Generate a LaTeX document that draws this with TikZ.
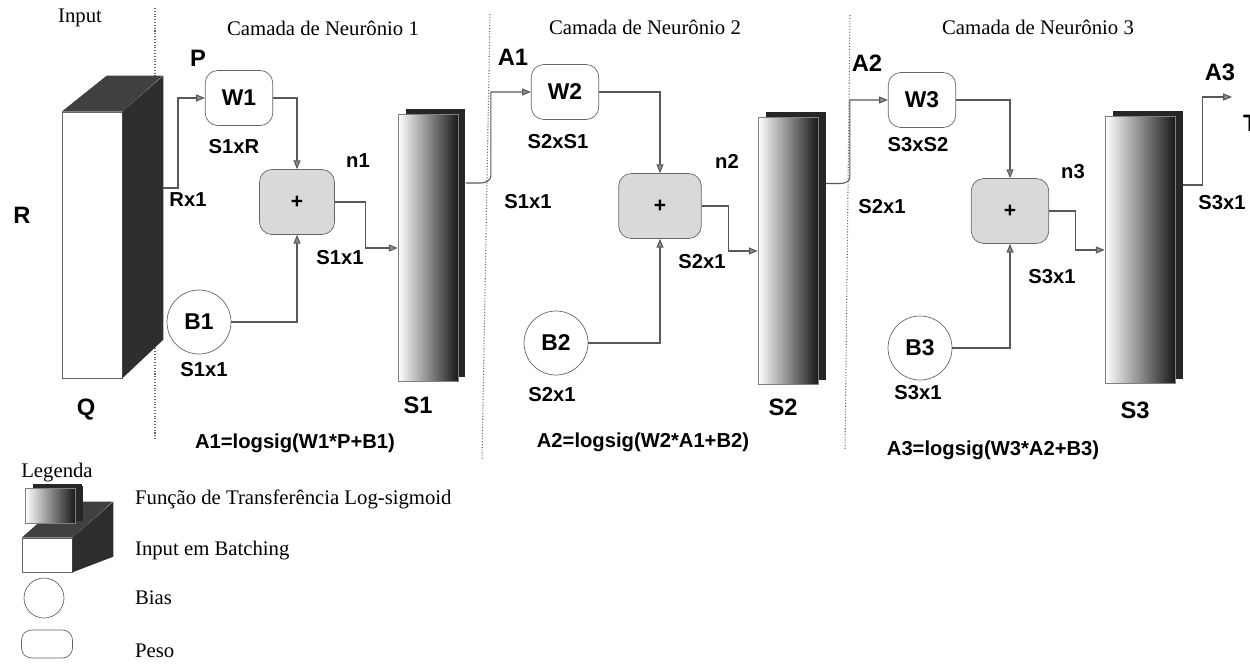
\documentclass[tikz,border=0pt]{standalone}
\usepackage{fontspec}
\setmainfont{Liberation Serif}
\setsansfont{Liberation Sans}
\usetikzlibrary{arrows.meta, positioning, calc, shadows}

\begin{document}
\begin{tikzpicture}[x=0.02cm, y=-0.02cm,
    weight/.style={rectangle, draw=black!60, fill=white, rounded corners=0.25cm, minimum width=1.35cm, minimum height=1.1cm, font=\sffamily\bfseries\fontsize{13}{15}\selectfont},
    sum/.style={rectangle, draw=black!60, fill=black!15, rounded corners=0.25cm, minimum width=1.5cm, minimum height=1.3cm, font=\sffamily\bfseries\fontsize{12}{14}\selectfont},
    bias/.style={circle, draw=black!60, fill=white, minimum size=1.28cm, inner sep=0pt, font=\sffamily\bfseries\fontsize{13}{15}\selectfont},
    transfer/.style={rectangle, draw=black!50, left color=white, middle color=black!35, right color=black!90, minimum width=1.2cm, minimum height=5.35cm, drop shadow={shadow xshift=0.15cm, shadow yshift=0.1cm, fill=black!85, opacity=1}},
    dimlabel/.style={font=\sffamily\bfseries\fontsize{11.5}{13}\selectfont, inner sep=1pt},
    biglabel/.style={font=\sffamily\bfseries\fontsize{13.5}{16}\selectfont, inner sep=1pt},
    heading/.style={font=\fontsize{11.8}{14}\selectfont, inner sep=1pt},
    wire/.style={draw=black!65, line width=0.6pt},
    wirearrow/.style={wire, -{Triangle[length=5pt, width=4pt, fill=black!45]}},
    divider/.style={densely dotted, black!60, line width=0.6pt}
]
\useasboundingbox (0,0) rectangle (1250,663);

% Layer dividers
\draw[divider] (155,8) -- (155,440);
\draw[divider] (490,14) -- (482,460);
\draw[divider] (850,15) -- (845,450);

% Headings
\node[heading] (hIn) at (80,18) {Input};
\node[heading] (h1) at (323,28) {Camada de Neurônio 1};
\node[heading] (h2) at (645,27) {Camada de Neurônio 2};
\node[heading] (h3) at (1038,27) {Camada de Neurônio 3};

% Input block
\node[rectangle, draw=black!60, fill=white, minimum width=1.2cm, minimum height=5.32cm] (in) at (92,245) {};
\fill[black!75] (in.north west) -- ++(45,-36) -- ++(56,0) -- (in.north east) -- cycle;
\fill[black!82] (in.north east) -- ++(41,-36) -- ++(0,264) -- (in.south east) -- cycle;
\coordinate (pin) at (163,188);
\node[biglabel] (lR) at (22,215) {R};
\node[biglabel] (lQ) at (86,410) {Q};
\node[biglabel] (lP) at (198,58) {P};
\node[dimlabel] (lRx1) at (188,200) {Rx1};

% Layer 1
\node[weight] (W1) at (239,98) {W1};
\node[sum] (N1) at (297,202) {+};
\node[bias] (B1) at (199,322) {B1};
\node[transfer] (S1) at (428,248) {};
\node[dimlabel] (lW1) at (234,147) {S1xR};
\node[dimlabel] (ln1) at (358,161) {n1};
\node[dimlabel] (lN1) at (340,258) {S1x1};
\node[dimlabel] (lB1) at (204,370) {S1x1};
\node[biglabel] (lS1) at (418,405) {S1};
\node[dimlabel] (f1) at (295,443) {A1=logsig(W1*P+B1)};

\draw[wirearrow] (pin) -- ++(15,0) |- (W1.west);
\draw[wirearrow] (W1.east) -| (N1.north);
\draw[wirearrow] (B1.east) -| (N1.south);
\draw[wirearrow] (N1.east) -- ++(31,0) |- (S1.west);

% Layer 2
\node[weight] (W2) at (565,92) {W2};
\node[sum, minimum width=1.65cm] (N2) at (660,206) {+};
\node[bias] (B2) at (556,343) {B2};
\node[transfer] (S2) at (788,251) {};
\node[biglabel] (lA1) at (513,57) {A1};
\node[dimlabel] (lS1x1) at (528,202) {S1x1};
\node[dimlabel] (lW2) at (558,142) {S2xS1};
\node[dimlabel] (ln2) at (727,161) {n2};
\node[dimlabel] (lN2) at (702,262) {S2x1};
\node[dimlabel] (lB2) at (552,395) {S2x1};
\node[biglabel] (lS2) at (783,407) {S2};
\node[dimlabel] (f2) at (643,442) {A2=logsig(W2*A1+B2)};

\draw[wirearrow] ([shift={(0.15cm,1.3cm)}]S1.east) -- ++(15,0) .. controls +(5,0) and +(0,4) .. ++(10,-7) |- (W2.west);
\draw[wirearrow] (W2.east) -| (N2.north);
\draw[wirearrow] (B2.east) -| (N2.south);
\draw[wirearrow] (N2.east) -- ++(27,0) |- (S2.west);

% Layer 3
\node[weight] (W3) at (922,100) {W3};
\node[sum, minimum width=1.55cm] (N3) at (1010,211) {+};
\node[bias] (B3) at (920,348) {B3};
\node[transfer, minimum width=1.4cm] (S3) at (1140,250) {};
\node[biglabel] (lA2) at (867,63) {A2};
\node[dimlabel] (lS2x1) at (882,207) {S2x1};
\node[dimlabel] (lW3) at (918,145) {S3xS2};
\node[dimlabel] (ln3) at (1073,172) {n3};
\node[dimlabel] (lN3) at (1052,277) {S3x1};
\node[dimlabel] (lB3) at (918,393) {S3x1};
\node[biglabel] (lS3) at (1135,410) {S3};
\node[dimlabel] (f3) at (993,450) {A3=logsig(W3*A2+B3)};
\node[biglabel] (lA3) at (1220,72) {A3};
\node[dimlabel] (lS3x1) at (1222,203) {S3x1};
\node[biglabel, anchor=west] (lT) at (1241,123) {T};
\coordinate (A3out) at (1232,97);

\draw[wirearrow] ([shift={(0.15cm,1.35cm)}]S2.east) -- ++(14,0) .. controls +(5,0) and +(0,4) .. ++(10,-6) |- (W3.west);
\draw[wirearrow] (W3.east) -| (N3.north);
\draw[wirearrow] (B3.east) -| (N3.south);
\draw[wirearrow] (N3.east) -- ++(26,0) |- (S3.west);
\draw[wirearrow] ([shift={(0.15cm,1.3cm)}]S3.east) -- ++(20,0) |- (A3out);

% Legend
\node[heading] (leg) at (57,473) {Legenda};
\node[rectangle, draw=black!60, fill=white, minimum width=1cm, minimum height=0.68cm, inner sep=0pt] (legIn) at (47,555) {};
\fill[black!75] (legIn.north west) -- ++(41,-36) -- ++(50,0) -- (legIn.north east) -- cycle;
\fill[black!82] (legIn.north east) -- ++(41,-36) -- ++(0,55) -- (legIn.south east) -- cycle;
\node[transfer, minimum width=1cm, minimum height=0.7cm, drop shadow={shadow xshift=0.16cm, shadow yshift=0.06cm, fill=black!85, opacity=1}] (legTf) at (50,506) {};
\node[bias, minimum size=0.8cm] (legB) at (44,598) {};
\node[weight, minimum width=1.02cm, minimum height=0.56cm, rounded corners=0.2cm] (legW) at (47,644) {};
\node[heading, anchor=west] (tTf) at (133,499) {Função de Transferência Log-sigmoid};
\node[heading, anchor=west] (tIn) at (133,551) {Input em Batching};
\node[heading, anchor=west] (tB) at (133,598) {Bias};
\node[heading, anchor=west] (tW) at (133,651) {Peso};

\end{tikzpicture}
\end{document}
